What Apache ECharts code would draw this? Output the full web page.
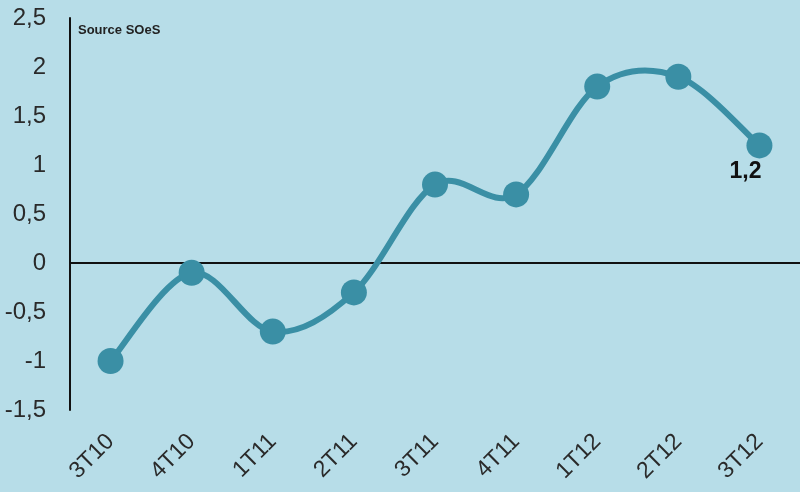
<!DOCTYPE html>
<html><head><meta charset="utf-8">
<script src="https://cdn.jsdelivr.net/npm/echarts@6/dist/echarts.min.js"></script>
<style>html,body{margin:0;padding:0;background:#b7dde8;}#c{width:800px;height:492px;}</style>
</head><body><div id="c"></div>
<script>
var categories = ['3T10','4T10','1T11','2T11','3T11','4T11','1T12','2T12','3T12'];
var values = [-1, -0.1, -0.7, -0.3, 0.8, 0.7, 1.8, 1.9, 1.2];
var yMin = -1.5, yMax = 2.5, yStep = 0.5;
var sourceText = 'Source SOeS';
var fmt = function(v){ return String(v).replace('.', ','); };
var lineColor = '#3a8fa5';

function renderSmooth(params, api) {
  if (params.dataIndex !== 0) return null;
  var pts = values.map(function(v, i){ return api.coord([i, v]); });
  var n = pts.length;
  var d = 'M' + pts[0][0] + ' ' + pts[0][1];
  for (var i = 0; i < n - 1; i++) {
    var p0 = pts[Math.max(i - 1, 0)], p1 = pts[i], p2 = pts[i + 1], p3 = pts[Math.min(i + 2, n - 1)];
    var c1x = p1[0] + (p2[0] - p0[0]) / 6, c1y = p1[1] + (p2[1] - p0[1]) / 6;
    var c2x = p2[0] - (p3[0] - p1[0]) / 6, c2y = p2[1] - (p3[1] - p1[1]) / 6;
    d += ' C' + c1x + ' ' + c1y + ' ' + c2x + ' ' + c2y + ' ' + p2[0] + ' ' + p2[1];
  }
  return {type: 'path', shape: {pathData: d}, style: {fill: null, stroke: lineColor, lineWidth: 6, lineCap: 'round'}};
}

var chart = echarts.init(document.getElementById('c'));
chart.setOption({
  backgroundColor: '#b7dde8',
  animation: false,
  graphic: [{type:'text', left: 78, top: 24, style:{text: sourceText, font:'bold 13px "Liberation Sans", Arial', fill:'#222'}}],
  grid: {left: 70, right: 0, top: 18, bottom: 82},
  xAxis: {
    type: 'category', data: categories, boundaryGap: true,
    axisLine: {show: false}, axisTick: {show: false},
    axisLabel: {rotate: 45, margin: 28, fontSize: 23, color: '#2a2a2a', fontFamily: 'Liberation Sans'}
  },
  yAxis: {
    type: 'value', min: yMin, max: yMax, interval: yStep,
    axisLine: {show: true, lineStyle: {color: '#111', width: 2}},
    axisTick: {show: false}, splitLine: {show: false},
    axisLabel: {margin: 24, fontSize: 24, color: '#2a2a2a', fontFamily: 'Liberation Sans', formatter: fmt}
  },
  series: [{
    type: 'custom', data: [[0, values[0]]], renderItem: renderSmooth, silent: true, z: 2,
    clip: false
  }, {
    type: 'scatter', data: values, z: 3,
    symbol: 'circle', symbolSize: 26,
    itemStyle: {color: lineColor, opacity: 1},
    label: {show: true, position: 'bottom', distance: 2, offset: [-14, 0],
      formatter: function(p){ return p.dataIndex === values.length - 1 ? fmt(p.value) : ''; },
      fontSize: 23, fontWeight: 'bold', color: '#111', fontFamily: 'Liberation Sans'},
    markLine: {silent: true, symbol: ['none','none'], label:{show:false}, z: 1,
      lineStyle: {color: '#111', width: 2, type: 'solid'},
      data: [{yAxis: 0}]}
  }]
});
</script></body></html>
